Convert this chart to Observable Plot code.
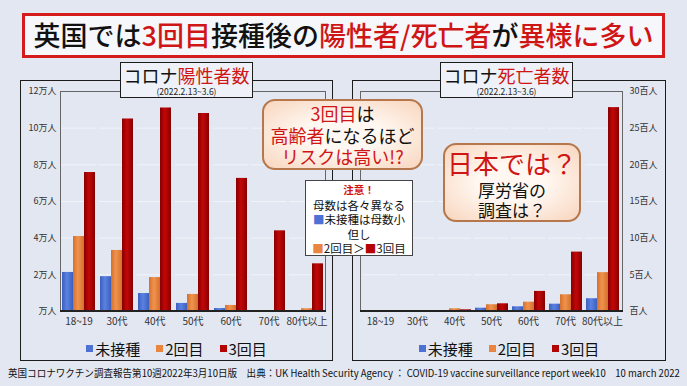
<!DOCTYPE html>
<html><head><meta charset="utf-8">
<script src="https://cdn.jsdelivr.net/npm/d3@7"></script>
<script src="https://cdn.jsdelivr.net/npm/@observablehq/plot@0.6"></script>
<style>
body{margin:0;background:#e3e7f1;font-family:"Noto Sans CJK JP","Noto Sans",sans-serif;}
#root{position:relative;width:687px;height:386px;overflow:hidden;background:#e3e7f1;}
.abs{position:absolute;box-sizing:border-box;}
.red{color:#d01515;}
#title{left:22px;top:13px;width:643px;height:45px;border:3px solid #d41c1c;background:#f6f7fb;font-size:27px;font-weight:500;line-height:38px;text-align:center;color:#111;white-space:nowrap;z-index:5;}
.outer{border:1.5px solid #1c1c1c;z-index:2;}
.inner{border:1px solid #666;border-bottom:none;z-index:2;}
.base{height:2px;background:#222;z-index:3;}
.ptitle{border:1.5px solid #1c1c1c;background:#eef1f8;text-align:center;z-index:5;color:#111;white-space:nowrap;}
.ptitle .t{font-size:18px;font-weight:400;line-height:22px;margin-top:1px;}
.ptitle .s{font-size:8.5px;line-height:10px;color:#222;}
.chart{z-index:1;}
.legend{display:flex;justify-content:center;align-items:center;font-size:15px;color:#111;z-index:4;}
.legend .sw{display:inline-block;width:7px;height:7px;margin-right:2px;}
.legend .it{display:flex;align-items:center;margin:0 8px;}
.note{border:2.5px solid #b5774b;border-radius:13px;background:radial-gradient(ellipse at center,#fff8f2 35%,#f8d5bd 100%);text-align:center;color:#111;z-index:6;font-weight:400;white-space:nowrap;}
#warn{left:305px;top:180px;width:108px;height:76px;border:1.5px solid #444;background:#fff;text-align:center;font-size:11.5px;line-height:14.5px;color:#111;z-index:6;padding-top:2px;white-space:nowrap;}
#footer{left:0;top:365px;width:687px;font-size:10px;color:#111;white-space:nowrap;z-index:4;transform-origin:0 0;}
</style></head>
<body><div id="root">
<div class="abs" id="title">英国では<span class="red">3回目</span>接種後の<span class="red">陽性者/死亡者</span>が<span class="red">異様に多い</span></div>

<div class="abs outer" style="left:20px;top:80px;width:313px;height:281px;"></div>
<div class="abs outer" style="left:352px;top:80px;width:314px;height:281px;"></div>
<div class="abs inner" style="left:60px;top:91px;width:266px;height:221px;"></div>
<div class="abs inner" style="left:360px;top:91px;width:263px;height:221px;"></div>
<div class="abs base" style="left:60px;top:310px;width:266px;"></div>
<div class="abs base" style="left:360px;top:310px;width:263px;"></div>

<div class="abs chart" id="c1" style="left:20px;top:80px;"></div>
<div class="abs chart" id="c2" style="left:352px;top:80px;"></div>

<div class="abs ptitle" style="left:120px;top:62px;width:133px;height:36px;"><div class="t">コロナ<span class="red">陽性者数</span></div><div class="s">(2022.2.13~3.6)</div></div>
<div class="abs ptitle" style="left:440px;top:62px;width:133px;height:36px;"><div class="t">コロナ<span class="red">死亡者数</span></div><div class="s">(2022.2.13~3.6)</div></div>

<div class="abs note" style="left:262px;top:99px;width:161px;height:71px;font-size:18px;line-height:21.5px;padding-top:2px;">
<div><span class="red">3回目</span>は</div><div><span class="red">高齢者</span>になるほど</div><div class="red">リスクは高い!?</div></div>

<div class="abs" id="warn"><div class="red" style="font-weight:700;font-size:10.5px;">注意！</div><div>母数は各々異なる</div><div><span id="wb">■</span>未接種は母数小</div><div>但し</div><div><span id="wo">■</span>2回目＞<span id="wr">■</span>3回目</div></div>

<div class="abs note" style="left:443px;top:143px;width:138px;height:79px;padding-top:0px;">
<div class="red" style="font-size:26px;line-height:34px;margin-top:1px;">日本では？</div><div style="font-size:17px;line-height:20px;">厚労省の</div><div style="font-size:17px;line-height:20px;">調査は？</div></div>

<div class="abs legend" id="lg1" style="left:20px;top:337px;width:313px;height:22px;"></div>
<div class="abs legend" id="lg2" style="left:352px;top:337px;width:314px;height:22px;"></div>

<div class="abs" id="footer">英国コロナワクチン調査報告第10週2022年3月10日版　出典：UK Health Security Agency ： COVID-19 vaccine surveillance report week10　10 march 2022</div>
</div>
<script>
const ages = ["18~19","30代","40代","50代","60代","70代","80代以上"];
const series = ["未接種","2回目","3回目"];
const colors = ["#4d72d4","#e9853f","#b30303"];
// 陽性者数 (persons)
const casesUnvax = [21300, 19000, 9800, 4400, 1600, 200, 100];
const casesDose2 = [40900, 33300, 18500, 9300, 3300, 500, 1500];
const casesDose3 = [75800, 105000, 111000, 108000, 72600, 44000, 26000];
// 死亡者数 (persons)
const deathsUnvax = [0, 1, 5, 45, 64, 100, 174];
const deathsDose2 = [0, 1, 37, 92, 127, 228, 530];
const deathsDose3 = [0, 2, 23, 105, 274, 810, 2780];
const casesTicks = [0, 20000, 40000, 60000, 80000, 100000, 120000];
const deathsTicks = [0, 500, 1000, 1500, 2000, 2500, 3000];

// subtle 3D shading for the bars (edge, centre)
const shades = [["#3c5fbd", "#5b82e2"], ["#d5702c", "#f0934e"], ["#860000", "#c40707"]];
const gradIds = series.map((s, i) => "barg" + i);

function rows(a, b, c) {
  const out = [];
  ages.forEach((age, i) => {
    out.push({age, series: series[0], value: a[i]});
    out.push({age, series: series[1], value: b[i]});
    out.push({age, series: series[2], value: c[i]});
  });
  return out;
}

function makeChart(data, opts) {
  const svg = Plot.plot({
    width: 310, height: 255,
    marginLeft: opts.ml, marginRight: opts.mr, marginTop: 11, marginBottom: 24,
    style: {background: "transparent", fontFamily: '"Noto Sans CJK JP", sans-serif', color: "#333", overflow: "visible"},
    fx: {domain: ages, padding: 0.075, label: null},
    x: {domain: series, padding: 0, axis: null},
    y: {domain: opts.domain, label: null},
    color: {domain: series, range: gradIds.map(id => `url(#${opts.prefix}${id})`)},
    marks: [
      Plot.gridY(opts.ticks, {stroke: "#ffffff", strokeOpacity: 0.55}),
      Plot.barY(data, {fx: "age", x: "series", y: "value", fill: "series"}),
      Plot.axisY(opts.ticks, {anchor: opts.anchor, tickSize: 0, tickPadding: opts.tp, tickFormat: opts.fmt, fontSize: 9, label: null}),
      Plot.axisFx({anchor: "bottom", tickSize: 0, tickPadding: 6, fontSize: 10, label: null})
    ]
  });
  const defs = d3.select(svg).insert("defs", ":first-child");
  shades.forEach(([edge, mid], i) => {
    const g = defs.append("linearGradient").attr("id", opts.prefix + gradIds[i])
      .attr("x1", "0%").attr("x2", "100%").attr("y1", "0%").attr("y2", "0%");
    g.append("stop").attr("offset", "0%").attr("stop-color", edge);
    g.append("stop").attr("offset", "45%").attr("stop-color", mid);
    g.append("stop").attr("offset", "100%").attr("stop-color", edge);
  });
  return svg;
}

document.getElementById("c1").appendChild(makeChart(rows(casesUnvax, casesDose2, casesDose3), {
  prefix: "a", ml: 40, mr: 5, domain: [0, 120000], ticks: casesTicks, anchor: "left", tp: 5,
  fmt: d => d === 0 ? "万人" : (d / 10000) + "万人"
}));
document.getElementById("c2").appendChild(makeChart(rows(deathsUnvax, deathsDose2, deathsDose3), {
  prefix: "b", ml: 8, mr: 39, domain: [0, 3000], ticks: deathsTicks, anchor: "right", tp: 10,
  fmt: d => d === 0 ? "百人" : (d / 100) + "百人"
}));

for (const id of ["lg1", "lg2"]) {
  const lg = document.getElementById(id);
  series.forEach((s, i) => {
    const it = document.createElement("span");
    it.className = "it";
    it.innerHTML = `<span class="sw" style="background:${colors[i]}"></span>${s}`;
    lg.appendChild(it);
  });
}
document.getElementById("wb").style.color = colors[0];
document.getElementById("wo").style.color = colors[1];
document.getElementById("wr").style.color = colors[2];

const f = document.getElementById("footer");
const fw = f.scrollWidth;
const target = 672;
f.style.left = "8px";
f.style.transform = `scaleX(${target / fw})`;
</script>
</body></html>
